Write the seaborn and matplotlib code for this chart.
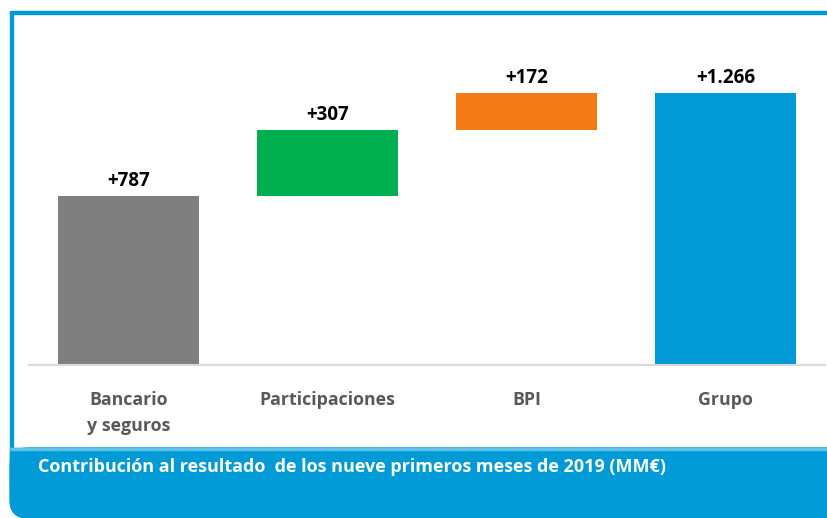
import matplotlib
matplotlib.use("Agg")
import matplotlib.pyplot as plt
import seaborn as sns
import pandas as pd
import numpy as np
from matplotlib.patches import Rectangle, FancyBboxPatch

categories = ["Bancario\ny seguros", "Participaciones", "BPI", "Grupo"]
values = [787, 307, 172, 1266]
labels = ["+787", "+307", "+172", "+1.266"]
is_total = [False, False, False, True]
colors = ["#7F7F7F", "#00B050", "#F47A16", "#009BD7"]
footer = "Contribución al resultado  de los nueve primeros meses de 2019 (MM€)"

# waterfall bases
bases = []
run = 0
for v, t in zip(values, is_total):
    if t:
        bases.append(0)
    else:
        bases.append(run)
        run += v
df = pd.DataFrame({"cat": categories, "val": values, "base": bases})

sns.set_theme(style="white")
plt.rcParams["font.family"] = ["Open Sans", "DejaVu Sans"]

W, H = 828, 518
fig = plt.figure(figsize=(W / 100, H / 100), dpi=100)
ax = fig.add_axes([29 / W, (H - 365) / H, (825 - 29) / W, (365 - 20) / H])

for (_, row), c in zip(df.iterrows(), colors):
    sns.barplot(x=[row["cat"]], y=[row["val"]], bottom=row["base"],
                order=categories, color=c, width=0.71, ax=ax,
                saturation=1, edgecolor="none")

ax.set_xlim(-0.5, 3.5)
ax.set_ylim(0, 1606)
for i, (v, b, lab) in enumerate(zip(values, bases, labels)):
    ax.annotate(lab, (i, v + b), xytext=(0, 3.5), textcoords="offset points",
                ha="center", va="bottom", fontsize=13.5, fontweight="bold",
                color="black")

ax.set_xlabel("")
ax.set_ylabel("")
ax.set_yticks([])
ax.set_xticks(range(4))
ax.set_xticklabels(categories, fontsize=12.8, fontweight="bold",
                   color="#595959", linespacing=1.6)
ax.tick_params(axis="x", which="major", length=0, pad=18.5)
ax.set_xticks(np.arange(-0.5, 4, 1), minor=True)
ax.tick_params(axis="x", which="minor", length=5, width=1.2,
               color="#D9D9D9", direction="out")
for s in ["top", "right", "left"]:
    ax.spines[s].set_visible(False)
ax.spines["bottom"].set_color("#D9D9D9")
ax.spines["bottom"].set_linewidth(1.5)

blue = "#009BD7"
# frame: top line and left line
fig.patches.append(Rectangle((10 / W, (H - 14) / H), (W - 10) / W, 2.5 / H,
                             transform=fig.transFigure, color=blue, zorder=0))
fig.patches.append(Rectangle((10 / W, (H - 460) / H), 3 / W, (460 - 12) / H,
                             transform=fig.transFigure, color=blue, zorder=0))
# bottom band with rounded bottom-left corner
r = 18
band_h = 518 - 448
fig.patches.append(FancyBboxPatch((10, 0), W + 2 * r, band_h,
                                  boxstyle=f"round,pad=0,rounding_size={r}",
                                  transform=None, color=blue, zorder=0))
fig.patches.append(Rectangle((10, band_h - 2 * r), W, 2 * r, transform=None,
                             color=blue, zorder=0))
fig.patches.append(Rectangle((10, band_h - 1.5), W, 1.5, transform=None,
                             color="#5FC0E8", zorder=1))
fig.text(38 / W, (H - 467) / H, footer, color="white", fontsize=13,
         fontweight="bold", ha="left", va="center")

fig.savefig("out.png", dpi=100)
